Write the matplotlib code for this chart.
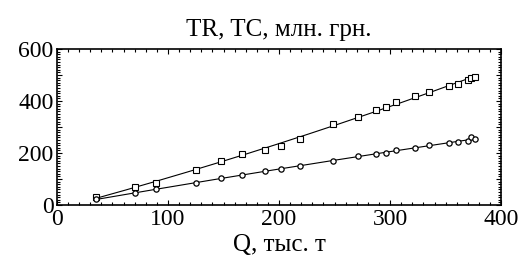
import numpy as np
import matplotlib
matplotlib.use("Agg")
import matplotlib.pyplot as plt
from matplotlib.ticker import MultipleLocator, FixedLocator, FuncFormatter

# data (Q in thousand t, values in mln UAH)
q = [35, 70, 89, 125, 148, 167, 187, 202, 219, 249, 271, 287, 296, 305,
     322, 335, 353, 361, 370, 373, 376]
tr = [30, 70, 86, 135, 170, 197, 212, 227, 254, 310, 338, 364, 378, 397,
      418, 434, 458, 466, 481, 488, 493]
tc = [22, 45, 62, 86, 103, 115, 131, 140, 150, 171, 187, 198, 202, 210,
      221, 229, 237, 241, 246, 260, 255]

x_ticks = [0, 100, 200, 300, 400]
y_ticks = [0, 100, 200, 300, 400, 500, 600]
y_labels = {0: "0", 200: "200", 400: "400", 600: "600"}

plt.rcParams['font.family'] = ['Liberation Serif', 'DejaVu Serif']

fig = plt.figure(figsize=(5.27, 2.66), dpi=100)
ax = fig.add_axes([0.108, 0.229, 0.843, 0.587])

# smooth fitted curves through the points
qq = np.linspace(min(q), max(q), 200)
p_tr = np.polyfit(q, tr, 2)
p_tc = np.polyfit(q, tc, 2)
ax.plot(qq, np.polyval(p_tr, qq), color='black', lw=0.8)
ax.plot(qq, np.polyval(p_tc, qq), color='black', lw=0.8)

ax.plot(q, tr, 's', ms=4.2, mfc='white', mec='black', mew=0.8)
ax.plot(q, tc, 'o', ms=3.8, mfc='white', mec='black', mew=0.9)

ax.set_xlim(0, 400)
ax.set_ylim(0, 600)
ax.xaxis.set_major_locator(FixedLocator(x_ticks))
ax.yaxis.set_major_locator(FixedLocator(y_ticks))
ax.yaxis.set_major_formatter(FuncFormatter(lambda v, pos: y_labels.get(int(round(v)), "")))
ax.xaxis.set_minor_locator(MultipleLocator(10))
ax.yaxis.set_minor_locator(MultipleLocator(10))
ax.tick_params(which='both', direction='in', top=True, right=True,
               labelsize=17, width=0.8)
ax.tick_params(axis='x', pad=3)
ax.tick_params(axis='y', pad=2.5)
ax.tick_params(which='major', length=3.5)
ax.tick_params(which='minor', length=2)
for s in ax.spines.values():
    s.set_linewidth(1.2)

ax.set_title("TR, TC, млн. грн.", fontsize=18, pad=9)
ax.set_xlabel("Q, тыс. т", fontsize=18, labelpad=3)

fig.savefig("out.png", dpi=100)
